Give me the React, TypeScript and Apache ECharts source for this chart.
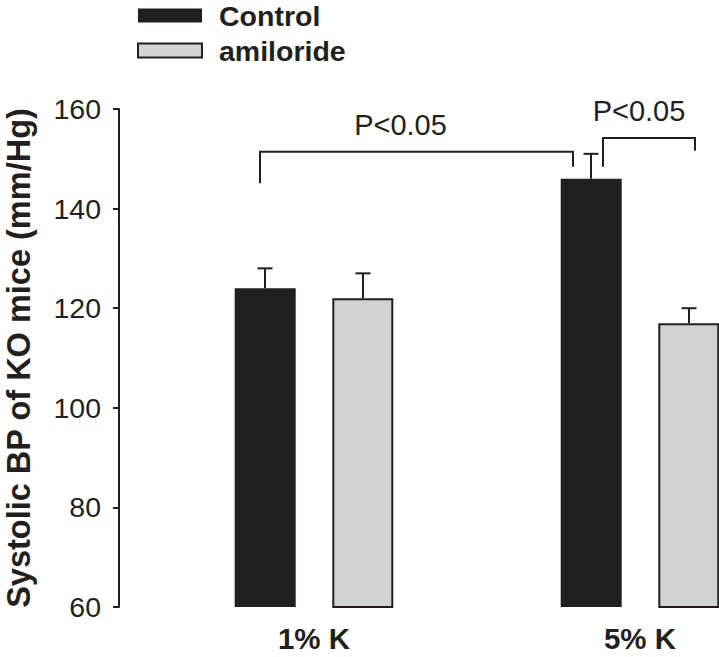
import React, { useEffect, useRef } from "react";
import * as echarts from "echarts";

// ---- data ----
const categories = ["1% K", "5% K"];
const seriesNames = ["Control", "amiloride"];
const controlValues = [124, 146];
const controlErrors = [4, 5];
const amilorideValues = [122, 117];
const amilorideErrors = [5, 3];
const yMin = 60;
const yMax = 160;
const yInterval = 20;

// significance brackets: [category, series] endpoints and their heights (mmHg)
const bracketFrom = [[0, 0], [1, 0]];
const bracketTo = [[1, 0], [1, 1]];
const bracketTop = [151.4, 154.2];
const bracketLeftEnd = [145.1, 148.4];
const bracketRightEnd = [148.4, 151.6];
const bracketLabels = ["P<0.05", "P<0.05"];

// ---- layout / style ----
const INK = "#231f20";
const LIGHT = "#d1d2d4";
const FONT = "'Liberation Sans', Arial, Helvetica, sans-serif";
const BAR_W = 61;
const SERIES_DX = [-49, 49];
const BRACKET_DX = [[-5, -18], [12, 6]];
const LABEL_DX = [-16, -10];
const CAP_HALF = 7.5;

function errorRenderer(seriesIdx: number) {
  return (params: any, api: any) => {
    const c = api.value(0);
    const v = api.value(1);
    const e = api.value(2);
    const p0 = api.coord([c, v]);
    const p1 = api.coord([c, v + e]);
    const x = p0[0] + SERIES_DX[seriesIdx];
    return {
      type: "group",
      children: [
        { type: "line", shape: { x1: x, y1: p0[1], x2: x, y2: p1[1] }, style: { stroke: INK, lineWidth: 2 } },
        { type: "line", shape: { x1: x - CAP_HALF, y1: p1[1], x2: x + CAP_HALF, y2: p1[1] }, style: { stroke: INK, lineWidth: 2 } },
      ],
    };
  };
}

export default function App() {
  const ref = useRef<HTMLDivElement>(null);
  useEffect(() => {
    if (!ref.current) return;
    const chart = echarts.init(ref.current, null, { renderer: "svg" });
    chart.setOption({
      animation: false,
      backgroundColor: "#ffffff",
      legend: {
        data: [
          { name: seriesNames[0], itemStyle: { color: INK, borderWidth: 0 } },
          { name: seriesNames[1], itemStyle: { color: LIGHT, borderColor: INK, borderWidth: 2 } },
        ],
        orient: "vertical",
        left: 137,
        top: 1,
        padding: 0,
        itemWidth: 64,
        itemHeight: 14,
        itemGap: 6,
        icon: "rect",
        textStyle: { fontFamily: FONT, fontSize: 28.5, fontWeight: "bold", color: INK, padding: [0, 0, 0, 12] },
      },
      grid: { left: 151, width: 652, top: 109, bottom: 50, containLabel: false, outerBoundsMode: "none" },
      xAxis: {
        type: "category",
        data: categories,
        axisLine: { show: false },
        axisTick: { show: false },
        axisLabel: { fontFamily: FONT, fontSize: 29.5, fontWeight: "bold", color: INK, margin: 16 },
      },
      yAxis: {
        type: "value",
        min: yMin,
        max: yMax,
        interval: yInterval,
        offset: 32,
        name: "Systolic BP of KO mice (mm/Hg)",
        nameLocation: "middle",
        nameGap: 84,
        nameTextStyle: { fontFamily: FONT, fontSize: 32.5, fontWeight: "bold", color: INK },
        axisLine: { show: true, lineStyle: { color: INK, width: 2 } },
        axisTick: { show: true, length: 6, lineStyle: { color: INK, width: 2 } },
        axisLabel: { fontFamily: FONT, fontSize: 28.5, color: INK, margin: 18 },
        splitLine: { show: false },
      },
      series: [
        {
          name: seriesNames[0],
          type: "bar",
          data: controlValues,
          barWidth: BAR_W,
          barGap: "60%",
          itemStyle: { color: INK },
        },
        {
          name: seriesNames[1],
          type: "bar",
          data: amilorideValues,
          barWidth: BAR_W,
          barGap: "60%",
          itemStyle: { color: LIGHT, borderColor: INK, borderWidth: 2 },
        },
        {
          type: "custom",
          name: "err0",
          data: controlValues.map((v, i) => [i, v, controlErrors[i]]),
          encode: { x: 0, y: 1 },
          renderItem: errorRenderer(0),
          clip: false,
          z: 3,
        },
        {
          type: "custom",
          name: "err1",
          data: amilorideValues.map((v, i) => [i, v, amilorideErrors[i]]),
          encode: { x: 0, y: 1 },
          renderItem: errorRenderer(1),
          clip: false,
          z: 3,
        },
        {
          type: "custom",
          name: "brackets",
          data: bracketTop.map((v, i) => [i, v]),
          encode: { x: 0, y: 1 },
          clip: false,
          z: 4,
          renderItem: (params: any, api: any) => {
            const i = params.dataIndex;
            const [c0, s0] = bracketFrom[i];
            const [c1, s1] = bracketTo[i];
            const pTop = api.coord([c0, bracketTop[i]]);
            const x0 = pTop[0] + SERIES_DX[s0] + BRACKET_DX[i][0];
            const x1 = api.coord([c1, bracketTop[i]])[0] + SERIES_DX[s1] + BRACKET_DX[i][1];
            const yTop = pTop[1];
            const yL = api.coord([c0, bracketLeftEnd[i]])[1];
            const yR = api.coord([c1, bracketRightEnd[i]])[1];
            return {
              type: "group",
              children: [
                {
                  type: "polyline",
                  shape: { points: [[x0, yL], [x0, yTop], [x1, yTop], [x1, yR]] },
                  style: { stroke: INK, lineWidth: 2, fill: null },
                },
                {
                  type: "text",
                  x: (x0 + x1) / 2 + LABEL_DX[i],
                  y: yTop - 12,
                  style: {
                    text: bracketLabels[i],
                    fill: INK,
                    fontFamily: FONT,
                    fontSize: 29,
                    align: "center",
                    verticalAlign: "bottom",
                  },
                },
              ],
            };
          },
        },
      ],
    });
    return () => chart.dispose();
  }, []);
  return (
    <div
      ref={ref}
      style={{ position: "absolute", left: 0, top: 0, width: 719, height: 657 }}
    />
  );
}
